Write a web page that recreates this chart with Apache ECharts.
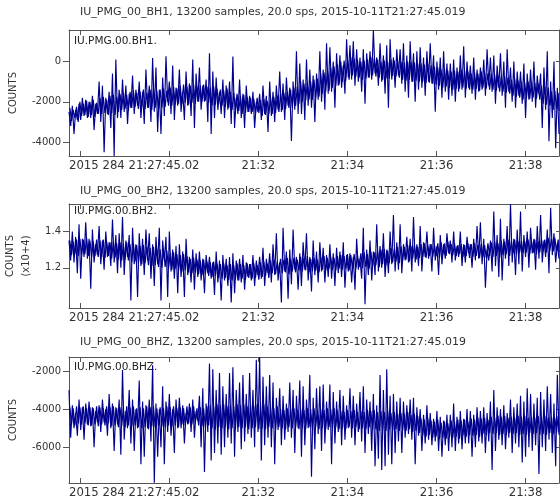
<!DOCTYPE html>
<html>
<head>
<meta charset="utf-8">
<script src="https://cdn.jsdelivr.net/npm/echarts@6/dist/echarts.min.js"></script>
<style>
  html, body { margin: 0; padding: 0; background: #fff; }
  #chart { width: 560px; height: 501px; }
</style>
</head>
<body>
<div id="chart"></div>
<script>
// channel names and panel headers
var stations = ['IU.PMG.00.BH1.', 'IU.PMG.00.BH2.', 'IU.PMG.00.BHZ.']
var headers = [
  'IU_PMG_00_BH1, 13200 samples, 20.0 sps, 2015-10-11T21:27:45.019',
  'IU_PMG_00_BH2, 13200 samples, 20.0 sps, 2015-10-11T21:27:45.019',
  'IU_PMG_00_BHZ, 13200 samples, 20.0 sps, 2015-10-11T21:27:45.019'
]

// traces: big swings (peaks / troughs), evenly spaced over 660 s
var bh1 = [
  -2500, -3200, -2200, -3600, -2400, -2900, -2100, -2900, -1800, -2700, -1900, -2800,
  -2000, -2800, -1700, -3400, -2100, -2600, -1000, -3000, -1200, -4500, -1800, -2600,
  -1500, -3300, -600, -4690, 100, -2800, -1400, -2800, -900, -2500, -1200, -3100,
  -1600, -2300, -700, -2600, -1400, -2200, -1000, -2800, -1500, -3100, -400, -2300,
  -1200, -3000, 170, -2500, -300, -3500, -1400, -3600, -800, -2700, 260, -2000,
  -1000, -2600, -200, -2900, -1300, -2200, -400, -2500, -1500, -2900, -500, -2200,
  -1100, -2700, 100, -3300, -600, -2000, -300, -2400, -1200, -2000, -900, -3000,
  400, -3600, -500, -2800, -800, -2400, -1500, -2600, -900, -2800, -1200, -2400,
  -1000, -3100, 250, -3300, -1800, -2600, -900, -2800, -1600, -3300, -1200, -2500,
  -1700, -2600, -1500, -3300, -2000, -2500, -1600, -2900, -1200, -2600, -1700, -3500,
  -1000, -2700, -1500, -3000, -1200, -2400, -500, -2500, -1100, -2900, -800, -2200,
  -1300, -3950, -1000, -2400, 500, -2600, -100, -2600, -900, -2900, 100, -2200,
  -400, -2300, -700, -3000, -600, -1900, 500, -2000, -400, -2400, 900, -1600,
  700, -1500, 0, -2300, 400, -1200, 300, -1300, -200, -1600, 1100, -800,
  800, -900, 1000, -1200, 600, -1000, 200, -1500, 600, -2100, 400, -800,
  500, -900, 1550, -600, 200, -1200, 900, -1000, 300, -1600, 800, -2300,
  1100, -900, 200, -1300, 600, -700, 600, -1100, 900, -1500, 300, -1800,
  1000, -1000, 400, -2000, 500, -1400, 700, -1300, 200, -1700, 500, -1000,
  900, -1100, 300, -2500, 0, -1400, 200, -1800, 500, -1500, -100, -1900,
  -100, -1700, 100, -2000, -300, -1500, 300, -1400, 750, -1800, 0, -1300,
  -200, -1600, 200, -1900, -400, -1500, -300, -1400, 100, -1700, 600, -1200,
  200, -1500, 300, -2100, -200, -1300, 400, -1700, 0, -2300, 600, -1500,
  -300, -2000, 0, -2300, -500, -1700, -500, -2100, -100, -2800, -600, -1900,
  -400, -2000, 0, -2300, -700, -1600, -600, -3300, -300, -2400, 500, -3960,
  -1000, -2800, 0, -4300, -1300, -3600
]
// dense core of the same trace (small swings), between the big ones
var bh1Core = [
  -2300, -2950, -2400, -2800, -2250, -3000, -2000, -2700, -2100, -2650, -1950, -2750,
  -2000, -2650, -1900, -2750, -2050, -2600, -1800, -2600, -1750, -2550, -1900, -2650,
  -1700, -2550, -1650, -2650, -1750, -2500, -1600, -2400, -1550, -2350, -1650, -2450,
  -1500, -2300, -1450, -2250, -1550, -2350, -1500, -2250, -1400, -2350, -1550, -2300,
  -1400, -2400, -1350, -2300, -1450, -2350, -1400, -2300, -1350, -2250, -1450, -2200,
  -1300, -2200, -1250, -2150, -1350, -2100, -1200, -2100, -1150, -2050, -1250, -2150,
  -1200, -2050, -1150, -2100, -1250, -2000, -1200, -2000, -1150, -1950, -1250, -2050,
  -1300, -2200, -1250, -2150, -1350, -2100, -1400, -2200, -1450, -2250, -1350, -2300,
  -1500, -2400, -1550, -2350, -1600, -2450, -1700, -2600, -1650, -2550, -1750, -2500,
  -1800, -2500, -1850, -2600, -1800, -2550, -1900, -2700, -1850, -2650, -1950, -2600,
  -1800, -2600, -1750, -2550, -1700, -2500, -1600, -2400, -1550, -2350, -1500, -2300,
  -1400, -2300, -1300, -2200, -1250, -2100, -1000, -2000, -1100, -1950, -1050, -1900,
  -1000, -1900, -900, -1800, -850, -1750, -600, -1600, -550, -1500, -450, -1450,
  -300, -1300, -250, -1200, -150, -1150, 0, -1000, 50, -950, 100, -900,
  200, -700, 150, -750, 100, -800, 0, -900, 50, -850, 100, -800,
  200, -700, 150, -750, 100, -800, 0, -900, 50, -850, 0, -850,
  100, -700, 50, -750, 0, -800, 0, -900, -50, -950, 0, -900,
  0, -1000, -50, -950, -100, -1000, -100, -1000, -150, -1050, -100, -1050,
  -200, -1100, -250, -1150, -300, -1200, -400, -1300, -350, -1250, -450, -1300,
  -500, -1400, -450, -1350, -500, -1350, -400, -1300, -450, -1350, -500, -1400,
  -600, -1400, -550, -1350, -600, -1450, -500, -1300, -550, -1350, -600, -1400,
  -600, -1400, -650, -1450, -700, -1500, -700, -1500, -750, -1550, -800, -1600,
  -900, -1700, -850, -1750, -950, -1800, -1000, -1900, -1050, -1850, -1000, -1850,
  -1000, -1800, -1050, -1850, -1100, -1900, -1200, -2100, -1250, -2150, -1300, -2200,
  -1500, -2400, -1450, -2350, -1550, -2450
]
var bh2 = [
  13500, 12400, 14000, 12300, 13700, 11700, 14400, 11400, 13600, 12600, 14500, 12500,
  13600, 10850, 14100, 12300, 13300, 12700, 14300, 12200, 13500, 11900, 14000, 12600,
  13400, 12100, 14650, 12300, 13800, 11700, 13900, 12000, 14800, 11600, 13500, 12600,
  13800, 10200, 14200, 12200, 13300, 10400, 13900, 12100, 13600, 11600, 14100, 12400,
  13900, 11400, 13300, 11000, 13700, 12200, 14200, 10200, 13500, 12400, 13700, 10400,
  14000, 11800, 13000, 11400, 13200, 10600, 13300, 11500, 12900, 10400, 13600, 11600,
  12600, 11200, 13000, 10800, 12800, 11500, 12900, 11300, 12500, 10600, 12700, 11700,
  12600, 11400, 12300, 10500, 12900, 11200, 12400, 10200, 12700, 11300, 12500, 11000,
  12600, 10100, 12800, 10600, 12400, 11300, 12500, 11200, 12700, 10800, 12300, 11500,
  12200, 11300, 12700, 11000, 12400, 11600, 12600, 11400, 13100, 11000, 12500, 11700,
  12800, 11200, 13300, 11600, 13900, 11300, 12300, 10100, 14200, 11800, 12900, 10300,
  13000, 11100, 14100, 11900, 12600, 10800, 12800, 11000, 13400, 11900, 13900, 11300,
  12600, 10700, 13500, 11600, 12900, 11200, 13400, 11800, 13100, 11200, 12700, 11500,
  13300, 11400, 12800, 11000, 13100, 11700, 12900, 11500, 13400, 10900, 12700, 11800,
  12800, 11200, 12600, 10800, 13600, 11900, 12500, 11400, 14200, 10000, 13000, 11600,
  13500, 11300, 12900, 11600, 14400, 11800, 13200, 12000, 13900, 11500, 13000, 11700,
  14000, 12200, 14900, 11800, 13400, 11900, 14400, 11700, 13300, 12400, 13700, 12300,
  13600, 11800, 14800, 12300, 13300, 12100, 14300, 11800, 13400, 12600, 14000, 12500,
  13300, 11800, 14200, 12400, 13200, 11600, 13800, 12200, 13300, 12500, 13900, 12800,
  13500, 12300, 14000, 12400, 13200, 12600, 14000, 12100, 13300, 12300, 13700, 12800,
  13300, 12000, 13600, 12400, 14300, 12500, 14500, 12200, 13600, 10900, 13000, 12400,
  13500, 11800, 15100, 12100, 13800, 11500, 14700, 11300, 13600, 12500, 14300, 12100,
  15500, 12300, 13600, 11600, 14100, 12200, 15100, 11800, 13800, 12600, 14000, 12000,
  14200, 12800, 13600, 11900, 14300, 12500, 14900, 12300, 13500, 12600, 14100, 11700,
  15300, 12700, 13900, 12300, 13300, 12500
]
var bh2Core = [
  13500, 12700, 13450, 12750, 13550, 12650, 13600, 12700, 13550, 12750, 13650, 12650,
  13500, 12600, 13450, 12650, 13550, 12600, 13500, 12600, 13550, 12550, 13450, 12650,
  13400, 12500, 13450, 12550, 13350, 12450, 13400, 12400, 13350, 12450, 13400, 12400,
  13300, 12300, 13350, 12350, 13250, 12250, 13200, 12200, 13250, 12250, 13150, 12150,
  13100, 12100, 13150, 12150, 13050, 12050, 13000, 12000, 13050, 12050, 12950, 11950,
  12800, 11900, 12850, 11950, 12750, 11850, 12700, 11800, 12750, 11850, 12650, 11750,
  12500, 11700, 12550, 11750, 12450, 11650, 12400, 11600, 12450, 11650, 12350, 11550,
  12300, 11500, 12350, 11550, 12250, 11450, 12200, 11400, 12250, 11450, 12150, 11350,
  12200, 11300, 12150, 11350, 12250, 11300, 12200, 11400, 12150, 11350, 12250, 11450,
  12200, 11400, 12250, 11450, 12150, 11350, 12300, 11500, 12350, 11550, 12250, 11450,
  12400, 11700, 12450, 11650, 12350, 11700, 12500, 11700, 12450, 11750, 12550, 11650,
  12500, 11800, 12550, 11750, 12450, 11850, 12600, 11800, 12550, 11850, 12650, 11750,
  12500, 11800, 12550, 11850, 12450, 11750, 12600, 11900, 12650, 11850, 12550, 11950,
  12600, 11900, 12550, 11850, 12650, 11950, 12700, 11900, 12650, 11950, 12750, 11850,
  12700, 12000, 12750, 11950, 12650, 12050, 12800, 12000, 12850, 12050, 12750, 11950,
  12900, 12100, 12850, 12150, 12950, 12050, 13000, 12200, 13050, 12150, 12950, 12250,
  13100, 12300, 13050, 12350, 13150, 12250, 13200, 12400, 13150, 12450, 13250, 12350,
  13200, 12500, 13250, 12450, 13150, 12550, 13300, 12600, 13350, 12550, 13250, 12650,
  13300, 12600, 13250, 12650, 13350, 12550, 13400, 12700, 13350, 12650, 13450, 12750,
  13300, 12700, 13350, 12650, 13250, 12750, 13300, 12600, 13250, 12650, 13350, 12550,
  13300, 12600, 13350, 12650, 13250, 12550, 13300, 12600, 13250, 12550, 13350, 12650,
  13400, 12600, 13450, 12650, 13350, 12550, 13500, 12700, 13450, 12750, 13550, 12650,
  13500, 12800, 13550, 12750, 13450, 12850, 13500, 12800, 13450, 12850, 13550, 12750,
  13500, 12800, 13550, 12750, 13450, 12850, 13600, 12900, 13550, 12850, 13650, 12950,
  13600, 12900, 13650, 12950, 13550, 12850
]
var bhz = [
  -3000, -5500, -3800, -5000, -4200, -5400, -3500, -5100, -3900, -5600, -3700, -4800,
  -3600, -4900, -3900, -6000, -4100, -4700, -3800, -5200, -3500, -4700, -4000, -5400,
  -3200, -5000, -3700, -6200, -3900, -4800, -3500, -6400, -1950, -5600, -4100, -5000,
  -3000, -5800, -3500, -6200, -4000, -5000, -2500, -6900, -3600, -6500, -3800, -5000,
  -3500, -5700, -1700, -7860, -3700, -6500, -4000, -6000, -2800, -6900, -3600, -5200,
  -3200, -5400, -4000, -6300, -3500, -5000, -3400, -5000, -3800, -5800, -4200, -4800,
  -3700, -5200, -3500, -5500, -4100, -4600, -3300, -6000, -2900, -7300, -3700, -5200,
  -1600, -6700, -1900, -6300, -3000, -5800, -2100, -6400, -2800, -6000, -3200, -5500,
  -2100, -5800, -1800, -6500, -3000, -5200, -2600, -6100, -2200, -5700, -3200, -5300,
  -2100, -5500, -3000, -6000, -1400, -5200, -1260, -6700, -2300, -5900, -2800, -5500,
  -2200, -6000, -2600, -6900, -3400, -5100, -2900, -5900, -3300, -5600, -3700, -5200,
  -2600, -5500, -3000, -6300, -3300, -5000, -2500, -6500, -2800, -5900, -3500, -5000,
  -2200, -7550, -3400, -6100, -2900, -5300, -2800, -6200, -2700, -5800, -3600, -5100,
  -2700, -6900, -3100, -5800, -3600, -5200, -3000, -5900, -3300, -5600, -3800, -5000,
  -2900, -5500, -3300, -5900, -3700, -5200, -3100, -5700, -2800, -6300, -3500, -5300,
  -3600, -6200, -3200, -7000, -3800, -6600, -2200, -7200, -3000, -7000, -1900, -6400,
  -3300, -6900, -3200, -6300, -3600, -5700, -3400, -6300, -3600, -5500, -3800, -5300,
  -3500, -5600, -3400, -6900, -3900, -5400, -4000, -6200, -4300, -5800, -3800, -5600,
  -4200, -5900, -4500, -5700, -4100, -6200, -4400, -6500, -4600, -5900, -4300, -6200,
  -4300, -6000, -3700, -6200, -4400, -5800, -4100, -6100, -4500, -5800, -4000, -5800,
  -4100, -6500, -4300, -6000, -3900, -5700, -4100, -5800, -3900, -6300, -4200, -5700,
  -3600, -7200, -3000, -6200, -3900, -5600, -4000, -5900, -3800, -6100, -4200, -5500,
  -3500, -6300, -3900, -5800, -3700, -6000, -3300, -6800, -3600, -6500, -2900, -6000,
  -3200, -6200, -3700, -5900, -3400, -7400, -3100, -6000, -3500, -6200, -2800, -5600,
  -3200, -6300, -3700, -7000, -2200, -5200
]
var bhzCore = [
  -3900, -4800, -3950, -4850, -3850, -4750, -3900, -4800, -3850, -4750, -3950, -4850,
  -3900, -4850, -3950, -4800, -3850, -4900, -3900, -4800, -3950, -4850, -3850, -4750,
  -3900, -4900, -3850, -4850, -3950, -4950, -3900, -4900, -3950, -4950, -3850, -4850,
  -3900, -4900, -3850, -4850, -3950, -4950, -3900, -5000, -3950, -4950, -3850, -5050,
  -3900, -4900, -3850, -4950, -3950, -4850, -3900, -4900, -3950, -4950, -3850, -4850,
  -3900, -4900, -3850, -4850, -3950, -4950, -3900, -4800, -3950, -4850, -3850, -4750,
  -3900, -4800, -3850, -4750, -3950, -4850, -3900, -4900, -3950, -4950, -3850, -4850,
  -3800, -5000, -3850, -5050, -3750, -4950, -3800, -5000, -3750, -4950, -3850, -5050,
  -3800, -5000, -3850, -5050, -3750, -4950, -3800, -5000, -3750, -4950, -3850, -5050,
  -3800, -5000, -3850, -4950, -3750, -5050, -3800, -5000, -3750, -5050, -3850, -4950,
  -3900, -5000, -3950, -5050, -3850, -4950, -4000, -5000, -4050, -5050, -3950, -4950,
  -4000, -5000, -3950, -4950, -4050, -5050, -4000, -5000, -4050, -5050, -3950, -4950,
  -4000, -5000, -3950, -4950, -4050, -5050, -4000, -5000, -4050, -5050, -3950, -4950,
  -4000, -5000, -3950, -4950, -4050, -5050, -4100, -5000, -4150, -5050, -4050, -4950,
  -4100, -5000, -4050, -4950, -4150, -5050, -4100, -5000, -4150, -5050, -4050, -4950,
  -4100, -5100, -4050, -5050, -4150, -5150, -4100, -5100, -4150, -5150, -4050, -5050,
  -4200, -5100, -4150, -5050, -4250, -5150, -4200, -5100, -4250, -5150, -4150, -5050,
  -4300, -5200, -4250, -5150, -4350, -5250, -4500, -5400, -4550, -5450, -4450, -5350,
  -4600, -5500, -4650, -5450, -4550, -5550, -4700, -5500, -4650, -5550, -4750, -5450,
  -4600, -5500, -4650, -5450, -4550, -5550, -4600, -5400, -4550, -5450, -4650, -5350,
  -4500, -5400, -4550, -5350, -4450, -5450, -4500, -5300, -4450, -5350, -4550, -5250,
  -4400, -5300, -4450, -5250, -4350, -5350, -4400, -5300, -4350, -5350, -4450, -5250,
  -4400, -5300, -4450, -5250, -4350, -5350, -4400, -5300, -4350, -5350, -4450, -5250,
  -4400, -5300, -4450, -5250, -4350, -5350, -4400, -5300, -4350, -5350, -4450, -5250,
  -4400, -5300, -4450, -5250, -4350, -5350
]
var traces = [[bh1, bh1Core], [bh2, bh2Core], [bhz, bhzCore]]

// time axis: seconds after 2015-10-11T21:27:45.019
var duration = 660
var tickSec = [14.981, 134.981, 254.981, 374.981, 494.981, 614.981]
var labelSec = [0, 254.981, 374.981, 494.981, 614.981]
var timeLabels = ['2015 284 21:27:45.02', '21:32', '21:34', '21:36', '21:38']

// count axes
var yTicks = [[-4000, -2000, 0], [12000, 14000], [-6000, -4000, -2000]]
var yRange = [[-4690, 1560], [9790, 15510], [-7880, -1260]]
var yNames = ['COUNTS', 'COUNTS\n(x10+4)', 'COUNTS']

var tops = [30, 204, 357]
var heights = [126, 104, 126]
var titleTops = [2, 181, 331.5]
var stationTops = [41.5, 211.5, 367.5]
var nameGaps = [47, 33, 47]

var font = 'DejaVu Sans'
var textColor = '#333'
var boxColor = '#555'
var traceColor = '#00008f'

var chart = echarts.init(document.getElementById('chart'), null, { renderer: 'canvas' })

var grids = []
var xAxes = []
var yAxes = []
var series = []
var titles = []
var graphics = []

function lineSeries(i, data, offset, width) {
  var step = duration / (data.length - 1)
  return {
    type: 'line',
    xAxisIndex: i * 2,
    yAxisIndex: i * 2,
    showSymbol: false,
    symbol: 'none',
    sampling: false,
    clip: true,
    silent: true,
    lineStyle: { color: traceColor, width: width },
    data: data.map(function(v, k) {
      return [Math.min(duration, (k + offset) * step), v]
    })
  }
}

traces.forEach(function(pair, i) {
  grids.push({ left: 69, width: 490, top: tops[i], height: heights[i], show: false, outerBoundsMode: 'none', containLabel: false })
  // bottom time axis
  xAxes.push({
    type: 'value', gridIndex: i, position: 'bottom', min: 0, max: duration,
    axisLine: { onZero: false, lineStyle: { color: boxColor, width: 1 } },
    axisTick: { inside: true, length: 5, customValues: tickSec, lineStyle: { color: boxColor } },
    axisLabel: {
      customValues: labelSec, margin: 4, color: textColor, fontFamily: font, fontSize: 11.7,
      alignMinLabel: 'left',
      formatter: function(v) {
        for (var k = 0; k < labelSec.length; k++) {
          if (Math.abs(labelSec[k] - v) < 0.5) return timeLabels[k]
        }
        return ''
      }
    },
    splitLine: { show: false }
  })
  // top frame
  xAxes.push({
    type: 'value', gridIndex: i, position: 'top', min: 0, max: duration,
    axisLine: { onZero: false, lineStyle: { color: boxColor, width: 1 } },
    axisTick: { inside: true, length: 5, customValues: tickSec, lineStyle: { color: boxColor } },
    axisLabel: { show: false },
    splitLine: { show: false }
  })
  yAxes.push({
    type: 'value', gridIndex: i, position: 'left', min: yRange[i][0], max: yRange[i][1],
    name: yNames[i], nameLocation: 'middle', nameGap: nameGaps[i],
    nameTextStyle: { color: textColor, fontFamily: font, fontSize: 10, lineHeight: 16 },
    axisLine: { onZero: false, lineStyle: { color: boxColor, width: 1 } },
    axisTick: { inside: false, length: 6, customValues: yTicks[i], lineStyle: { color: boxColor } },
    axisLabel: {
      customValues: yTicks[i], margin: 8, color: textColor, fontFamily: font, fontSize: 10,
      formatter: function(v) {
        return i === 1 ? (v / 10000).toFixed(1) : String(v)
      }
    },
    splitLine: { show: false }
  })
  yAxes.push({
    type: 'value', gridIndex: i, position: 'right', min: yRange[i][0], max: yRange[i][1],
    axisLine: { onZero: false, lineStyle: { color: boxColor, width: 1 } },
    axisTick: { inside: true, length: 3, customValues: yTicks[i], lineStyle: { color: boxColor } },
    axisLabel: { show: false },
    splitLine: { show: false }
  })
  series.push(lineSeries(i, pair[1], 0.5, 1.2))
  series.push(lineSeries(i, pair[0], 0, 1.15))
  titles.push({
    text: headers[i], left: 75, top: titleTops[i],
    textStyle: { color: textColor, fontFamily: font, fontSize: 11, fontWeight: 'normal' }
  })
  graphics.push({
    type: 'text', left: 74, top: stationTops[i] - 6,
    style: { text: stations[i], fill: '#222', font: '10.5px "' + font + '"' }
  })
})

chart.setOption({
  animation: false,
  backgroundColor: '#fff',
  title: titles,
  grid: grids,
  xAxis: xAxes,
  yAxis: yAxes,
  series: series,
  graphic: graphics
})
</script>
</body>
</html>
